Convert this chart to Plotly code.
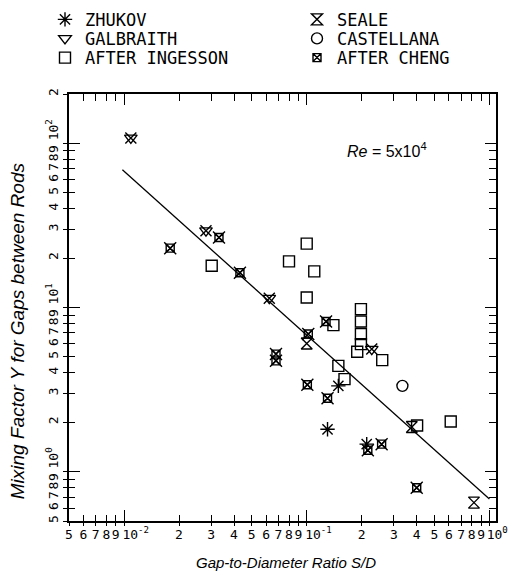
import plotly.graph_objects as go

# ---------------- data ----------------
zhukov_x = [0.149, 0.130, 0.213]
zhukov_y = [3.33, 1.81, 1.47]

seale_x = [0.100, 0.376, 0.823]
seale_y = [6.03, 1.87, 0.647]

galbraith_x = [0.0109, 0.0281, 0.0624, 0.227]
galbraith_y = [108.0, 29.4, 11.4, 5.58]

castellana_x = [0.334]
castellana_y = [3.33]

ingesson_x = [0.0302, 0.100, 0.080, 0.110, 0.100, 0.140, 0.198, 0.198, 0.198,
              0.198, 0.189, 0.259, 0.149, 0.161, 0.402, 0.614]
ingesson_y = [17.96, 24.5, 19.1, 16.6, 11.5, 7.81, 9.78, 8.21, 6.89,
              5.98, 5.37, 4.78, 4.41, 3.66, 1.91, 2.02]

cheng_x = [0.0179, 0.0331, 0.0431, 0.1276, 0.102, 0.0679, 0.0679, 0.1008,
           0.130, 0.216, 0.257, 0.400]
cheng_y = [23.0, 26.7, 16.3, 8.21, 6.89, 5.20, 4.73, 3.38,
           2.80, 1.35, 1.47, 0.798]

fit_x = [0.0098, 1.0]
fit_y = [69.0, 0.68]

NB = "\u00a0"
x_tickvals = [0.005, 0.006, 0.007, 0.008, 0.009, 0.01, 0.02, 0.03, 0.04, 0.05,
              0.06, 0.07, 0.08, 0.09, 0.1, 0.2, 0.3, 0.4, 0.5, 0.6, 0.7, 0.8,
              0.9, 1.0]
x_ticktext = ["5", "6", "7", "8", "9", NB * 3 + "10<sup>-2</sup>", "2", "3",
              "4", "5", "6", "7", "8", "9", NB * 3 + "10<sup>-1</sup>", "2",
              "3", "4", "5", "6", "7", "8", "9", NB * 2 + "10<sup>0</sup>"]
x_decades = [0.01, 0.1, 1.0]

y_tickvals = [0.5, 0.6, 0.7, 0.8, 0.9, 1, 2, 3, 4, 5, 6, 7, 8, 9, 10, 20, 30,
              40, 50, 60, 70, 80, 90, 100, 200]
y_ticktext = ["5", "6", "7", "8", "9", NB * 3 + "10<sup>0</sup>", "2", "3",
              "4", "5", "6", "7", "8", "9", NB * 3 + "10<sup>1</sup>", "2",
              "3", "4", "5", "6", "7", "8", "9", NB * 3 + "10<sup>2</sup>", "2"]
y_decades = [1, 10, 100]

# ---------------- figure ----------------
W, H = 510, 574
ML, MR, MT, MB = 69, 14, 93.5, 53
PW, PH = W - ML - MR, H - MT - MB

BLACK = "black"
LW = 1.4

fig = go.Figure()

fig.add_trace(go.Scatter(x=fit_x, y=fit_y, mode="lines",
                         line=dict(color=BLACK, width=1.3), showlegend=False,
                         hoverinfo="skip"))

# invisible helper traces so that the extra tick-only axes get drawn
for xa, ya in [("x2", "y"), ("x3", "y"), ("x4", "y"),
               ("x", "y2"), ("x", "y3"), ("x", "y4")]:
    fig.add_trace(go.Scatter(x=fit_x, y=fit_y, xaxis=xa, yaxis=ya,
                             mode="lines", opacity=0, showlegend=False,
                             hoverinfo="skip"))


def mk(symbol, size):
    return dict(symbol=symbol, size=size, color=BLACK,
                line=dict(color=BLACK, width=LW))


fig.add_trace(go.Scatter(x=zhukov_x, y=zhukov_y, mode="markers", name="ZHUKOV",
                         marker=mk("asterisk-open", 12), legend="legend"))
fig.add_trace(go.Scatter(x=seale_x, y=seale_y, mode="markers", name="SEALE",
                         marker=mk("hourglass-open", 11), legend="legend2"))
fig.add_trace(go.Scatter(x=galbraith_x, y=galbraith_y, mode="markers",
                         name="GALBRAITH",
                         marker=mk("triangle-down-open", 11), legend="legend3"))
fig.add_trace(go.Scatter(x=galbraith_x, y=galbraith_y, mode="markers",
                         marker=mk("x-thin-open", 11), showlegend=False))
fig.add_trace(go.Scatter(x=castellana_x, y=castellana_y, mode="markers",
                         name="CASTELLANA",
                         marker=mk("circle-open", 11), legend="legend4"))
fig.add_trace(go.Scatter(x=ingesson_x, y=ingesson_y, mode="markers",
                         name="AFTER INGESSON",
                         marker=mk("square-open", 11), legend="legend5"))
fig.add_trace(go.Scatter(x=cheng_x, y=cheng_y, mode="markers",
                         name="AFTER CHENG",
                         marker=mk("square-x-open", 8), legend="legend6"))
fig.add_trace(go.Scatter(x=cheng_x, y=cheng_y, mode="markers",
                         marker=mk("x-thin-open", 12), showlegend=False))

xr = [-2.30103, 0.036]
yr = [-0.30103, 2.30103]
tickfont = dict(family="DejaVu Sans Mono", size=13, color=BLACK)

cx = dict(type="log", range=xr, showgrid=False, zeroline=False,
          linecolor=BLACK, tickcolor=BLACK, tickmode="array")
cy = dict(type="log", range=yr, showgrid=False, zeroline=False,
          linecolor=BLACK, tickcolor=BLACK, tickmode="array")

fig.update_layout(
    width=W, height=H,
    margin=dict(l=ML, r=MR, t=MT, b=MB, autoexpand=False),
    paper_bgcolor="white", plot_bgcolor="white",
    # primary axes: labels + short inside ticks, box line
    xaxis=dict(**cx, tickvals=x_tickvals, ticktext=x_ticktext,
               ticks="inside", ticklen=6, tickwidth=1.2, mirror=True,
               showline=True, linewidth=2, tickfont=tickfont, tickangle=0,
               ticklabeloverflow="allow"),
    yaxis=dict(**cy, tickvals=y_tickvals, ticktext=y_ticktext,
               ticks="inside", ticklen=6, tickwidth=1.2, mirror=True,
               showline=True, linewidth=2, tickfont=tickfont, tickangle=-90,
               ticklabelstandoff=4, ticklabeloverflow="allow"),
    # outward part of the crossing ticks (bottom / left)
    xaxis2=dict(**cx, overlaying="x", anchor="y", side="bottom",
                tickvals=x_tickvals, ticks="outside", ticklen=4,
                tickwidth=1.2, showticklabels=False, showline=False),
    yaxis2=dict(**cy, overlaying="y", anchor="x", side="left",
                tickvals=y_tickvals, ticks="outside", ticklen=5,
                tickwidth=1.2, showticklabels=False, showline=False),
    # long decade ticks
    xaxis3=dict(**cx, overlaying="x", anchor="y", side="bottom",
                tickvals=x_decades, ticks="inside", ticklen=11,
                tickwidth=1.4, mirror="allticks", showticklabels=False,
                showline=False),
    yaxis3=dict(**cy, overlaying="y", anchor="x", side="left",
                tickvals=y_decades, ticks="inside", ticklen=11,
                tickwidth=1.4, mirror="allticks", showticklabels=False,
                showline=False),
    # top / right inward ticks
    xaxis4=dict(**cx, overlaying="x", anchor="y", side="top",
                tickvals=x_tickvals, ticks="inside", ticklen=7,
                tickwidth=1.2, showticklabels=False, showline=False),
    yaxis4=dict(**cy, overlaying="y", anchor="x", side="right",
                tickvals=y_tickvals, ticks="inside", ticklen=7,
                tickwidth=1.2, showticklabels=False, showline=False),
)

legfont = dict(family="DejaVu Sans Mono", size=17, color=BLACK)


def py2paper(py):
    return 1 + (MT - py) / PH


def px2paper(px):
    return (px - ML) / PW


col_left = [45, 297]
row_y = [19.2, 38.3, 57.5]
leg_ids = ["legend", "legend2", "legend3", "legend4", "legend5", "legend6"]
for i, lid in enumerate(leg_ids):
    r, c = divmod(i, 2)
    fig.layout[lid] = dict(x=px2paper(col_left[c]), y=py2paper(row_y[r]),
                           xanchor="left", yanchor="middle",
                           bgcolor="rgba(0,0,0,0)", borderwidth=0,
                           font=legfont, itemclick=False,
                           itemdoubleclick=False)

fig.add_annotation(text="<i>Re</i> = 5x10<sup>4</sup>", xref="paper",
                   yref="paper", x=px2paper(387), y=py2paper(150),
                   xanchor="center", yanchor="middle", showarrow=False,
                   font=dict(family="Liberation Sans", size=16, color=BLACK))
fig.add_annotation(text="<i>Mixing Factor Y for Gaps between Rods</i>",
                   xref="paper", yref="paper", x=px2paper(17),
                   y=py2paper(331), textangle=-90, showarrow=False,
                   xanchor="center", yanchor="middle",
                   font=dict(family="Liberation Sans", size=19, color=BLACK))
fig.add_annotation(text="<i>Gap-to-Diameter Ratio S/D</i>",
                   xref="paper", yref="paper", x=px2paper(286),
                   y=py2paper(563), showarrow=False,
                   xanchor="center", yanchor="middle",
                   font=dict(family="Liberation Sans", size=15, color=BLACK))

fig.write_html("out.html")
